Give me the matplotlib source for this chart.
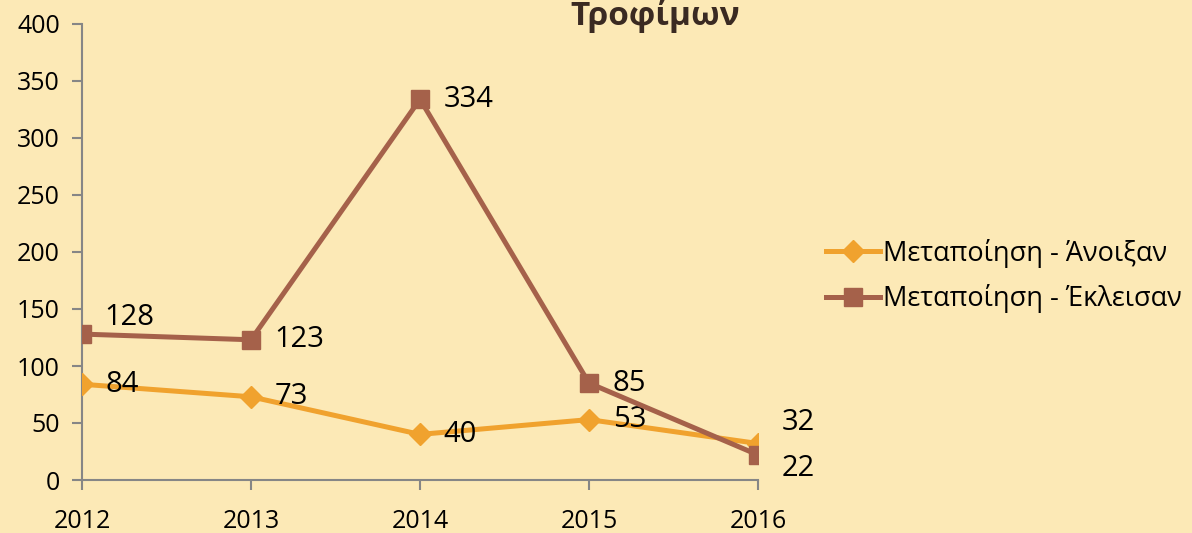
import matplotlib
matplotlib.use("Agg")
import matplotlib.pyplot as plt

years = ["2012", "2013", "2014", "2015", "2016"]
opened = [84, 73, 40, 53, 32]
closed = [128, 123, 334, 85, 22]
series_names = ["Μεταποίηση - Άνοιξαν", "Μεταποίηση - Έκλεισαν"]
title = "Τροφίμων"
yticks = [0, 50, 100, 150, 200, 250, 300, 350, 400]

plt.rcParams['font.family'] = ['Open Sans', 'DejaVu Sans']

bg = '#FCE9B6'
c_open = '#F0A22E'
c_close = '#A5614A'
gray = '#868686'

fig = plt.figure(figsize=(11.92, 5.33), dpi=100)
fig.patch.set_facecolor(bg)
ax = fig.add_axes([82/1192, 1-480/533, (758-82)/1192, (480-24)/533])
ax.set_facecolor('none')

x = list(range(len(years)))
l1, = ax.plot(x, opened, color=c_open, lw=3.6, marker='D', ms=11,
              markeredgecolor=c_open, label=series_names[0], zorder=3)
l2, = ax.plot(x, closed, color=c_close, lw=3.6, marker='s', ms=13,
              markeredgecolor=c_close, label=series_names[1], zorder=4)

ax.set_xlim(0, len(years)-1)
ax.set_ylim(0, 400)
ax.set_xticks(x)
ax.set_xticklabels(years)
ax.set_yticks(yticks)

for s in ['top', 'right']:
    ax.spines[s].set_visible(False)
for s in ['left', 'bottom']:
    ax.spines[s].set_color(gray)
    ax.spines[s].set_linewidth(1.5)
    ax.spines[s].set_clip_on(False)
ax.tick_params(axis='both', colors=gray, length=7, width=1.5, labelcolor='black', labelsize=18)
ax.tick_params(axis='y', pad=9)
ax.tick_params(axis='x', pad=14)

# data labels
off_open = [(17, 0), (17, 0), (17, 0), (17, 0), (17, 15)]
off_close = [(16, 12), (17, 0), (17, 0), (17, 0), (17, -10)]
for i, v in enumerate(opened):
    ax.annotate(str(v), (x[i], v), xytext=off_open[i], textcoords='offset points',
                ha='left', va='center', fontsize=21, color='black', annotation_clip=False)
for i, v in enumerate(closed):
    ax.annotate(str(v), (x[i], v), xytext=off_close[i], textcoords='offset points',
                ha='left', va='center', fontsize=21, color='black', annotation_clip=False)

fig.text(655/1192, 1-25/533, title, ha='center', va='baseline', fontsize=24,
         fontweight='bold', color='#3A2A22')

fig.legend(handles=[l1, l2], loc='center left', bbox_to_anchor=(826/1192, 1-276/533),
           frameon=False, fontsize=19.5, handlelength=2.0, handletextpad=0.1,
           labelspacing=0.6, borderaxespad=0, borderpad=0)

fig.savefig('out.png', dpi=100, facecolor=bg)
